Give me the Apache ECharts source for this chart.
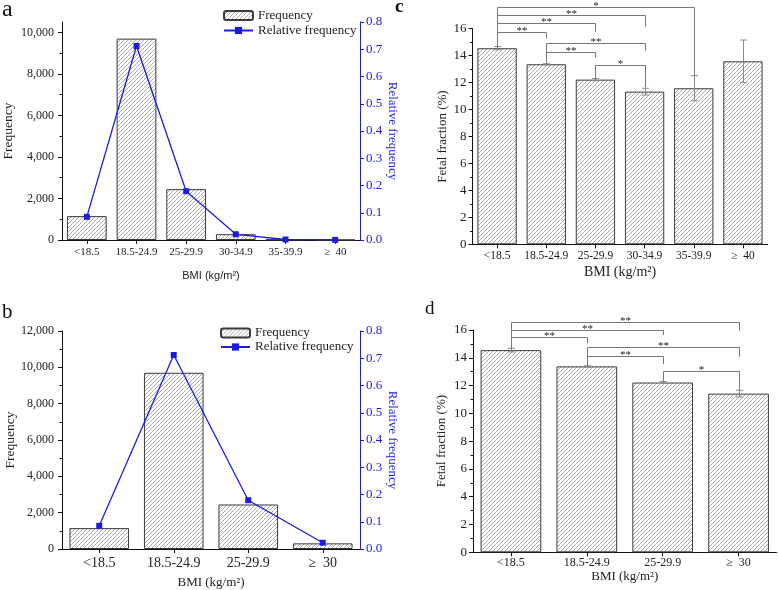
<!DOCTYPE html>
<html>
<head>
<meta charset="utf-8">
<script src="https://cdn.jsdelivr.net/npm/echarts@6/dist/echarts.min.js"></script>
<style>
html,body{margin:0;padding:0;background:#fff;}
#main{width:778px;height:590px;}
</style>
</head>
<body>
<div id="main"></div>
<script>
// ---------- data ----------
const catsA = ['<18.5', '18.5-24.9', '25-29.9', '30-34.9', '35-39.9', '\u2265  40'];
const freqA = [1150, 9700, 2450, 280, 24, 5];
const relA = [0.085, 0.712, 0.179, 0.021, 0.0018, 0.0004];

const catsB = ['<18.5', '18.5-24.9', '25-29.9', '\u2265  30'];
const freqB = [1150, 9700, 2450, 310];
const relB = [0.085, 0.712, 0.179, 0.023];

const catsC = ['<18.5', '18.5-24.9', '25-29.9', '30-34.9', '35-39.9', '\u2265  40'];
const ffC = [14.55, 13.36, 12.22, 11.33, 11.58, 13.58];
const errC = [0.12, 0.04, 0.08, 0.25, 0.93, 1.58];

const catsD = ['<18.5', '18.5-24.9', '25-29.9', '\u2265  30'];
const ffD = [14.55, 13.38, 12.22, 11.42];
const errD = [0.13, 0.04, 0.07, 0.24];

const freqTicksA = [0, 2000, 4000, 6000, 8000, 10000];
const freqMinorA = [1000, 3000, 5000, 7000, 9000];

// significance comparisons: [from, to, stars]
const sigC = [[0, 1, '**'], [0, 2, '**'], [0, 3, '**'], [0, 4, '*'], [1, 3, '**'], [1, 2, '**'], [2, 3, '*']];
const sigLevelC = [15.78, 16.40, 16.99, 17.63, 14.96, 14.29, 13.31];
const sigRightEndC = [15.29, 15.78, 16.15, 12.44, 14.37, 13.85, 11.65];
const sigLeftEndC = [14.66, 13.43, 12.27];

const sigD = [[0, 3, '**'], [0, 2, '**'], [0, 1, '**'], [1, 3, '**'], [1, 2, '**'], [2, 3, '*']];
const sigLevelD = [16.59, 15.99, 15.51, 14.75, 14.14, 13.07];
const sigRightEndD = [15.94, 15.63, 15.03, 14.07, 13.55, 11.68];
const sigLeftEndD = [14.62, 13.42, 12.27];

// ---------- styles ----------
const SERIF = 'Liberation Serif';
const SANS = 'Liberation Sans';
const BLUE = '#1c1ce0';
const INK = '#222';

function hatchPattern() {
  const s = 4;
  const c = document.createElement('canvas');
  c.width = s; c.height = s;
  const g = c.getContext('2d');
  g.fillStyle = '#fff';
  g.fillRect(0, 0, s, s);
  g.strokeStyle = '#858585';
  g.lineWidth = 0.7;
  g.beginPath();
  g.moveTo(0, s); g.lineTo(s, 0);
  g.moveTo(-1, 1); g.lineTo(1, -1);
  g.moveTo(s - 1, s + 1); g.lineTo(s + 1, s - 1);
  g.stroke();
  return {image: c, repeat: 'repeat'};
}
const HATCH = hatchPattern();

function catAxis(gridIndex, data, fs, margin, nameGap, nameFont, nameSize) {
  return {
    type: 'category', gridIndex, data,
    axisLine: {show: true, lineStyle: {color: '#111', width: 1}},
    axisTick: {show: true, alignWithLabel: true, length: 4, lineStyle: {color: '#111'}},
    axisLabel: {fontFamily: SERIF, fontSize: fs, color: INK, margin, interval: 0},
    splitLine: {show: false},
    name: 'BMI (kg/m\u00B2)', nameLocation: 'middle', nameGap,
    nameTextStyle: {fontFamily: nameFont, fontSize: nameSize, color: INK}
  };
}

function errSeries(xi, yi, vals, errs) {
  return {
    type: 'custom', xAxisIndex: xi, yAxisIndex: yi, clip: false, z: 5,
    data: vals.map((v, i) => [i, v, errs[i]]),
    encode: {x: 0, y: 1},
    renderItem: (p, api) => {
      const i = api.value(0), v = api.value(1), e = api.value(2);
      const t = api.coord([i, v + e]), b = api.coord([i, v - e]);
      const x = Math.round(t[0]) + 0.5, w = 3.5;
      const st = {stroke: '#8a8a8a', lineWidth: 1};
      return {type: 'group', children: [
        {type: 'line', shape: {x1: x, y1: t[1], x2: x, y2: b[1]}, style: st},
        {type: 'line', shape: {x1: x - w, y1: t[1], x2: x + w, y2: t[1]}, style: st},
        {type: 'line', shape: {x1: x - w, y1: b[1], x2: x + w, y2: b[1]}, style: st}
      ]};
    }
  };
}

function sigSeries(xi, yi, sig, levels, leftEnds, rightEnds) {
  return {
    type: 'custom', xAxisIndex: xi, yAxisIndex: yi, clip: false, z: 6,
    data: sig.map((s, k) => [s[0], levels[k], s[1], leftEnds[s[0]], rightEnds[k]]),
    encode: {x: 0, y: 1},
    renderItem: (p, api) => {
      const i = api.value(0), lvl = api.value(1), j = api.value(2);
      const le = api.value(3), re = api.value(4);
      const a = api.coord([i, lvl]), b = api.coord([j, lvl]);
      const al = api.coord([i, le]), br = api.coord([j, re]);
      const xa = Math.round(a[0]) + 0.5, xb = Math.round(b[0]) + 0.5, y = Math.round(a[1]) + 0.5;
      return {type: 'group', children: [
        {type: 'polyline', shape: {points: [[xa, al[1]], [xa, y], [xb, y], [xb, br[1]]]},
          style: {stroke: '#777', lineWidth: 1, fill: null}},
        {type: 'text', style: {text: sig[p.dataIndex][2], x: (xa + xb) / 2, y: y - 6.5,
          align: 'center', verticalAlign: 'top', fontFamily: SERIF, fontSize: 11, fill: INK}}
      ]};
    }
  };
}

const fmtThousands = v => Number(v).toLocaleString('en-US');

const option = {
  animation: false,
  backgroundColor: '#fff',
  grid: [
    {left: 62, top: 22, width: 298, height: 218, outerBoundsMode: 'none'},
    {left: 62, top: 331, width: 298, height: 218, outerBoundsMode: 'none'},
    {left: 472.5, top: 28.7, width: 295, height: 215.6, outerBoundsMode: 'none'},
    {left: 473, top: 330, width: 303.5, height: 222.3, outerBoundsMode: 'none'}
  ],
  legend: [
    {left: 223, top: 9, padding: 0, orient: 'vertical', itemWidth: 29, itemHeight: 9, itemGap: 2,
      selectedMode: false, data: ['Frequency', 'Relative frequency'],
      textStyle: {fontFamily: SERIF, fontSize: 13, color: INK}},
    {left: 220, top: 326.5, padding: 0, orient: 'vertical', itemWidth: 29, itemHeight: 9, itemGap: 1,
      selectedMode: false, data: ['Frequency', 'Relative frequency'],
      textStyle: {fontFamily: SERIF, fontSize: 13, color: INK}}
  ],
  xAxis: [
    catAxis(0, catsA, 11, 7, 30, SANS, 11),
    catAxis(1, catsB, 14, 7, 27, SERIF, 13),
    catAxis(2, catsC, 11.5, 6, 21, SERIF, 14),
    catAxis(3, catsD, 12, 5, 15, SERIF, 13)
  ],
  yAxis: [
    { // 0: a left
      type: 'value', gridIndex: 0, min: 0, max: 10500, interval: 2000, position: 'left',
      axisLine: {show: true, lineStyle: {color: '#111'}},
      axisTick: {show: true, length: 4, customValues: freqTicksA, lineStyle: {color: '#111'}},
      axisLabel: {fontFamily: SERIF, fontSize: 12, color: INK, margin: 8, formatter: fmtThousands, customValues: freqTicksA},
      splitLine: {show: false},
      name: 'Frequency', nameLocation: 'middle', nameGap: 47, nameRotate: 90,
      nameTextStyle: {fontFamily: SERIF, fontSize: 13.5, color: INK}
    },
    { // 1: a right
      type: 'value', gridIndex: 0, min: 0, max: 0.8, interval: 0.1, position: 'right',
      axisLine: {show: true, lineStyle: {color: BLUE}},
      axisTick: {show: true, length: 4, lineStyle: {color: BLUE}},
      axisLabel: {fontFamily: SERIF, fontSize: 13, color: BLUE, margin: 6, formatter: v => v.toFixed(1)},
      splitLine: {show: false},
      name: 'Relative frequency', nameLocation: 'middle', nameGap: 26, nameRotate: -90,
      nameTextStyle: {fontFamily: SERIF, fontSize: 13, color: BLUE}
    },
    { // 2: a left minor ticks
      type: 'value', gridIndex: 0, min: 0, max: 10500, position: 'left',
      axisLine: {show: false},
      axisTick: {show: true, length: 2.5, customValues: freqMinorA, lineStyle: {color: '#111'}},
      axisLabel: {show: false},
      splitLine: {show: false}
    },
    { // 3: b left
      type: 'value', gridIndex: 1, min: 0, max: 12000, interval: 2000, position: 'left',
      axisLine: {show: true, lineStyle: {color: '#111'}},
      axisTick: {show: true, length: 4, lineStyle: {color: '#111'}},
      minorTick: {show: true, splitNumber: 2, length: 2.5, lineStyle: {color: '#111'}},
      axisLabel: {fontFamily: SERIF, fontSize: 12, color: INK, margin: 8, formatter: fmtThousands},
      splitLine: {show: false},
      name: 'Frequency', nameLocation: 'middle', nameGap: 44, nameRotate: 90,
      nameTextStyle: {fontFamily: SERIF, fontSize: 13.5, color: INK}
    },
    { // 4: b right
      type: 'value', gridIndex: 1, min: 0, max: 0.8, interval: 0.1, position: 'right',
      axisLine: {show: true, lineStyle: {color: BLUE}},
      axisTick: {show: true, length: 4, lineStyle: {color: BLUE}},
      axisLabel: {fontFamily: SERIF, fontSize: 13, color: BLUE, margin: 6, formatter: v => v.toFixed(1)},
      splitLine: {show: false},
      name: 'Relative frequency', nameLocation: 'middle', nameGap: 26, nameRotate: -90,
      nameTextStyle: {fontFamily: SERIF, fontSize: 13, color: BLUE}
    },
    { // 5: c
      type: 'value', gridIndex: 2, min: 0, max: 16, interval: 2, position: 'left',
      axisLine: {show: true, lineStyle: {color: '#111'}},
      axisTick: {show: true, length: 4, lineStyle: {color: '#111'}},
      minorTick: {show: true, splitNumber: 2, length: 2.5, lineStyle: {color: '#111'}},
      axisLabel: {fontFamily: SERIF, fontSize: 13, color: INK, margin: 6},
      splitLine: {show: false},
      name: 'Fetal fraction (%)', nameLocation: 'middle', nameGap: 23, nameRotate: 90,
      nameTextStyle: {fontFamily: SERIF, fontSize: 13, color: INK}
    },
    { // 6: d
      type: 'value', gridIndex: 3, min: 0, max: 16, interval: 2, position: 'left',
      axisLine: {show: true, lineStyle: {color: '#111'}},
      axisTick: {show: true, length: 4, lineStyle: {color: '#111'}},
      minorTick: {show: true, splitNumber: 2, length: 2.5, lineStyle: {color: '#111'}},
      axisLabel: {fontFamily: SERIF, fontSize: 13, color: INK, margin: 6},
      splitLine: {show: false},
      name: 'Fetal fraction (%)', nameLocation: 'middle', nameGap: 25, nameRotate: 90,
      nameTextStyle: {fontFamily: SERIF, fontSize: 13, color: INK}
    }
  ],
  series: [
    {name: 'Frequency', type: 'bar', xAxisIndex: 0, yAxisIndex: 0, data: freqA, barWidth: '80%',
      itemStyle: {color: HATCH, borderColor: '#3a3a3a', borderWidth: 1}},
    {name: 'Relative frequency', type: 'line', xAxisIndex: 0, yAxisIndex: 1, data: relA, z: 4,
      symbol: 'rect', symbolSize: 6, color: BLUE, lineStyle: {color: BLUE, width: 1.3},
      itemStyle: {color: BLUE}},
    {name: 'Frequency', type: 'bar', xAxisIndex: 1, yAxisIndex: 3, data: freqB, barWidth: '80%',
      itemStyle: {color: HATCH, borderColor: '#3a3a3a', borderWidth: 1}},
    {name: 'Relative frequency', type: 'line', xAxisIndex: 1, yAxisIndex: 4, data: relB, z: 4,
      symbol: 'rect', symbolSize: 6, color: BLUE, lineStyle: {color: BLUE, width: 1.3},
      itemStyle: {color: BLUE}},
    {name: 'FF by BMI (6 groups)', type: 'bar', xAxisIndex: 2, yAxisIndex: 5, data: ffC, barWidth: '80%',
      itemStyle: {color: HATCH, borderColor: '#3a3a3a', borderWidth: 1}},
    errSeries(2, 5, ffC, errC),
    sigSeries(2, 5, sigC, sigLevelC, sigLeftEndC, sigRightEndC),
    {name: 'FF by BMI (4 groups)', type: 'bar', xAxisIndex: 3, yAxisIndex: 6, data: ffD, barWidth: '80%',
      itemStyle: {color: HATCH, borderColor: '#3a3a3a', borderWidth: 1}},
    errSeries(3, 6, ffD, errD),
    sigSeries(3, 6, sigD, sigLevelD, sigLeftEndD, sigRightEndD)
  ],
  graphic: [
    {type: 'text', style: {text: 'a', x: 2, y: 22, verticalAlign: 'bottom', fontFamily: SERIF, fontSize: 24, fill: '#111'}},
    {type: 'text', style: {text: 'b', x: 2, y: 322.5, verticalAlign: 'bottom', fontFamily: SERIF, fontSize: 21, fill: '#111'}},
    {type: 'text', style: {text: 'c', x: 395, y: 17, verticalAlign: 'bottom', fontFamily: SERIF, fontSize: 19, fontWeight: 'bold', fill: '#111'}},
    {type: 'text', style: {text: 'd', x: 425, y: 319, verticalAlign: 'bottom', fontFamily: SERIF, fontSize: 19, fill: '#111'}}
  ]
};

const chart = echarts.init(document.getElementById('main'), null, {renderer: 'canvas'});
chart.setOption(option);
</script>
</body>
</html>
